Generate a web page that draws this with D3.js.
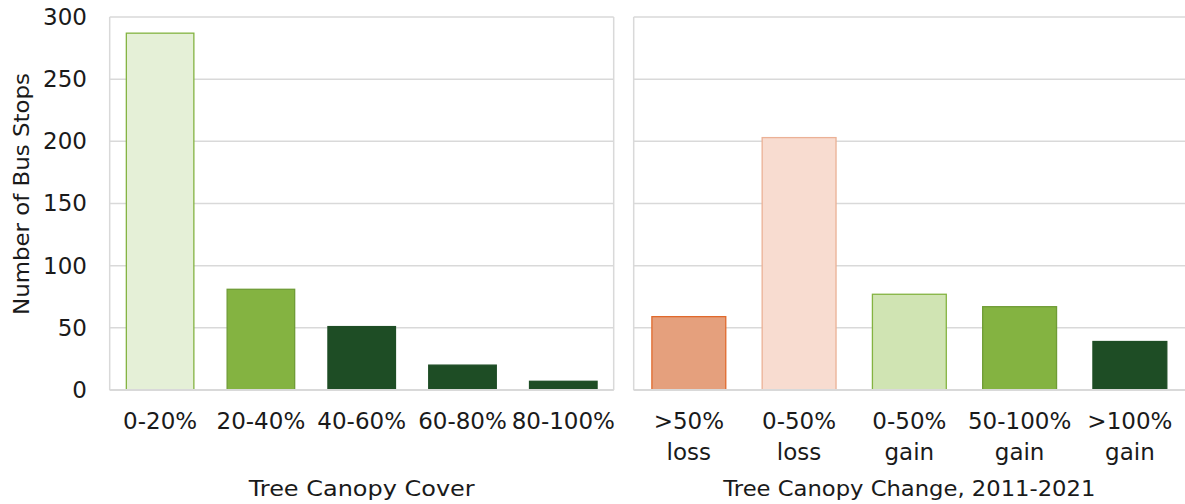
<!DOCTYPE html>
<html>
<head>
<meta charset="utf-8">
<script src="https://cdn.jsdelivr.net/npm/d3@7"></script>
<style>
  html, body { margin: 0; padding: 0; background: #fff; }
  svg text { font-family: "DejaVu Sans", sans-serif; fill: #1a1a1a; }
</style>
</head>
<body>
<svg id="chart" width="1185" height="504"></svg>
<script>
// Bus stops by tree canopy cover
const coverCategories = ["0-20%", "20-40%", "40-60%", "60-80%", "80-100%"];
const coverValues = [287, 81, 51, 20, 7];
const coverFills = ["#e5f0d7", "#84b341", "#1e4d25", "#1e4d25", "#1e4d25"];
const coverStrokes = ["#84b341", "#6f9c36", "#1e4d25", "#1e4d25", "#1e4d25"];

// Bus stops by tree canopy change, 2011-2021
const changeCategories = [">50%\nloss", "0-50%\nloss", "0-50%\ngain", "50-100%\ngain", ">100%\ngain"];
const changeValues = [59, 203, 77, 67, 39];
const changeFills = ["#e5a07d", "#f8dcd0", "#d0e4b3", "#84b341", "#1e4d25"];
const changeStrokes = ["#e0692c", "#ebb196", "#84b341", "#6f9c36", "#1e4d25"];

const yTicks = [0, 50, 100, 150, 200, 250, 300];
const yTitle = "Number of Bus Stops";
const panelTitles = ["Tree Canopy Cover", "Tree Canopy Change, 2011-2021"];

const svg = d3.select("#chart");
const plotTop = 17, plotBottom = 390;
const y = d3.scaleLinear().domain([0, 300]).range([plotBottom, plotTop]);
const gridColor = "#d9d9d9";

function panel(x0, x1, cats, vals, fills, strokes, title, titleWidth, closeRight) {
  const g = svg.append("g");
  const x = d3.scaleBand().domain(cats).range([x0, x1]).paddingInner(0.33).paddingOuter(0.165);

  // horizontal gridlines
  g.selectAll("line.grid").data(yTicks).join("line")
    .attr("x1", x0).attr("x2", x1)
    .attr("y1", d => y(d)).attr("y2", d => y(d))
    .attr("stroke", gridColor).attr("stroke-width", 1.5);
  // panel frame sides
  g.append("line").attr("x1", x0).attr("x2", x0).attr("y1", plotTop).attr("y2", plotBottom)
    .attr("stroke", gridColor).attr("stroke-width", 1.5);
  if (closeRight) {
    g.append("line").attr("x1", x1).attr("x2", x1).attr("y1", plotTop).attr("y2", plotBottom)
      .attr("stroke", gridColor).attr("stroke-width", 1.5);
  }

  g.selectAll("rect.bar").data(vals).join("rect")
    .attr("x", (d, i) => x(cats[i]))
    .attr("width", x.bandwidth())
    .attr("y", d => y(d))
    .attr("height", d => y(0) - y(d))
    .attr("fill", (d, i) => fills[i])
    .attr("stroke", (d, i) => strokes[i])
    .attr("stroke-width", 1.3);

  // baseline
  g.append("line").attr("x1", x0).attr("x2", x1).attr("y1", plotBottom).attr("y2", plotBottom)
    .attr("stroke", gridColor).attr("stroke-width", 2);

  // category labels
  const ax = d3.axisBottom(x).tickSize(0).tickPadding(0);
  const axg = g.append("g").attr("transform", `translate(0,${plotBottom})`).call(ax);
  axg.select(".domain").remove();
  axg.selectAll(".tick text").each(function(d) {
    const t = d3.select(this);
    const lines = d.split("\n");
    t.text(null).attr("y", 0).attr("dy", null)
      .attr("font-size", 23).attr("fill", "#1a1a1a").attr("font-family", null);
    lines.forEach((s, i) => {
      t.append("tspan").attr("x", 0).attr("y", 39 + i * 31).text(s);
    });
  });

  svg.append("text").attr("x", (x0 + x1) / 2).attr("y", 496)
    .attr("text-anchor", "middle").attr("font-size", 22)
    .attr("textLength", titleWidth).attr("lengthAdjust", "spacingAndGlyphs")
    .text(title);
}

panel(109.7, 613.7, coverCategories, coverValues, coverFills, coverStrokes, panelTitles[0], 226, true);
panel(633.7, 1185, changeCategories, changeValues, changeFills, changeStrokes, panelTitles[1], 372, false);

// y axis ticks
const yAxis = d3.axisLeft(y).tickValues(yTicks).tickSize(0).tickPadding(0);
const yg = svg.append("g").attr("transform", "translate(87,0)").call(yAxis);
yg.select(".domain").remove();
yg.selectAll(".tick text").attr("font-size", 23).attr("font-family", null).attr("fill", "#1a1a1a");

svg.append("text")
  .attr("transform", `translate(29,194) rotate(-90)`)
  .attr("text-anchor", "middle").attr("font-size", 22)
  .attr("textLength", 242).attr("lengthAdjust", "spacingAndGlyphs")
  .text(yTitle);
</script>
</body>
</html>
